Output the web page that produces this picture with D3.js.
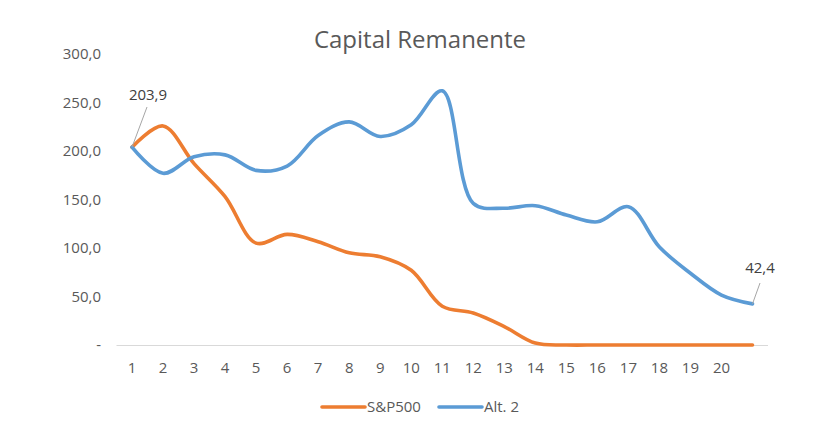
<!DOCTYPE html>
<html><head><meta charset="utf-8">
<script src="https://cdn.jsdelivr.net/npm/d3@7"></script>
<style>body{margin:0;background:#fff}svg{display:block;font-family:"Open Sans","Noto Sans",sans-serif}</style>
</head><body><svg id="c" width="820" height="437"></svg>
<script>
const categories = ["1","2","3","4","5","6","7","8","9","10","11","12","13","14","15","16","17","18","19","20",""];
const sp500 = [203.9,225.8,187,153,105,114,106.5,95,91,77,40,33,19,2,0,0,0,0,0,0,0];
const alt2 = [203.9,177,194,196,180,184.5,216,230,215,227,262,146,141,143.6,134,127,142.6,101,74,51.5,42.4];
const yTicks = [0,50,100,150,200,250,300];
const seriesNames = ["S&P500","Alt. 2"];
const colors = ["#ED7D31","#5B9BD5"];

const svg = d3.select("#c");
const x = d3.scaleBand().domain(d3.range(categories.length)).range([116.5,768]);
const y = d3.scaleLinear().domain([0,300]).range([345,54]);
const cx = i => x(i) + x.bandwidth()/2;
const fmt = v => v === 0 ? "-" : d3.format(".1f")(v).replace(".", ",");

svg.append("text").attr("x",420).attr("y",48).attr("text-anchor","middle")
  .attr("font-size",24).attr("fill","#595959").text("Capital Remanente");

// y axis labels
svg.append("g").selectAll("text").data(yTicks).join("text")
  .attr("x",101).attr("y",d=>y(d)).attr("dy","0.35em").attr("text-anchor","end")
  .attr("font-size",15).attr("fill","#595959").text(fmt);

// x axis line
svg.append("line").attr("x1",116.5).attr("x2",768).attr("y1",345.5).attr("y2",345.5)
  .attr("stroke","#d9d9d9").attr("stroke-width",1);
svg.append("g").selectAll("text").data(categories).join("text")
  .attr("x",(d,i)=>cx(i)).attr("y",368).attr("dy","0.35em").attr("text-anchor","middle")
  .attr("font-size",15).attr("fill","#595959").text(d=>d);

const line = d3.line().x((d,i)=>cx(i)).y(d=>y(d)).curve(d3.curveCatmullRom.alpha(0.5));
[sp500, alt2].forEach((s,k)=>{
  svg.append("path").attr("d",line(s)).attr("fill","none").attr("stroke",colors[k])
    .attr("stroke-width",3.6).attr("stroke-linecap","round").attr("stroke-linejoin","round");
});

// data labels
const lab = [
  {i:0, v:alt2[0], tx:148, ty:95, lx:147, ly:107},
  {i:20, v:alt2[20], tx:760, ty:268, lx:760, ly:283}
];
lab.forEach(d=>{
  svg.append("line").attr("x1",cx(d.i)).attr("y1",y(d.v)).attr("x2",d.lx).attr("y2",d.ly)
    .attr("stroke","#a6a6a6").attr("stroke-width",1);
  svg.append("text").attr("x",d.tx).attr("y",d.ty).attr("dy","0.35em").attr("text-anchor","middle")
    .attr("font-size",15).attr("fill","#404040").text(fmt(d.v));
});

// legend
const lg = [{x1:322,x2:365,tx:367},{x1:439,x2:482,tx:484}];
lg.forEach((l,k)=>{
  svg.append("line").attr("x1",l.x1).attr("x2",l.x2).attr("y1",407).attr("y2",407)
    .attr("stroke",colors[k]).attr("stroke-width",3.6).attr("stroke-linecap","round");
  svg.append("text").attr("x",l.tx).attr("y",407).attr("dy","0.35em")
    .attr("font-size",15).attr("fill","#595959").text(seriesNames[k]);
});
</script></body></html>
